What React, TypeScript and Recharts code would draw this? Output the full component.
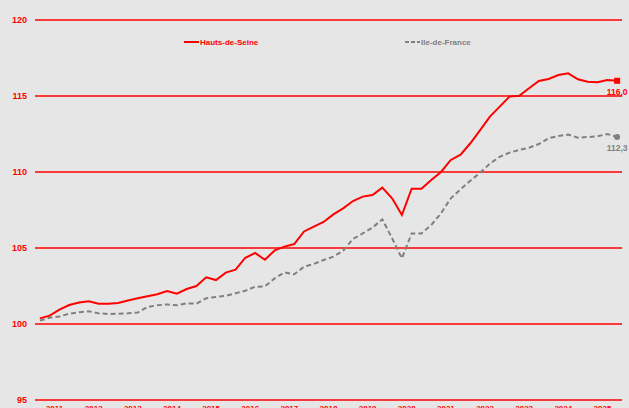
import React from 'react';
import {
  LineChart,
  Line,
  XAxis,
  YAxis,
  CartesianGrid,
  Legend,
} from 'recharts';

// quarterly index, base 100 = 2011 Q1
const YEARS = ['2011', '2012', '2013', '2014', '2015', '2016', '2017', '2018', '2019', '2020', '2021', '2022', '2023', '2024', '2025'];

const HAUTS_DE_SEINE = [
  100.37, 100.55, 100.95, 101.25, 101.42, 101.49, 101.34, 101.34,
  101.38, 101.55, 101.70, 101.83, 101.96, 102.17, 101.99, 102.30,
  102.50, 103.07, 102.89, 103.38, 103.58, 104.36, 104.67, 104.23,
  104.84, 105.09, 105.26, 106.09, 106.40, 106.71, 107.21, 107.61,
  108.09, 108.38, 108.49, 108.97, 108.27, 107.17, 108.90, 108.90,
  109.47, 110.00, 110.79, 111.14, 111.89, 112.76, 113.64, 114.30,
  114.96, 115.02, 115.51, 115.99, 116.12, 116.38, 116.49, 116.10,
  115.94, 115.90, 116.05, 116.0,
];

const ILE_DE_FRANCE = [
  100.22, 100.41, 100.50, 100.68, 100.77, 100.84, 100.70, 100.66,
  100.68, 100.70, 100.75, 101.12, 101.23, 101.29, 101.23, 101.36,
  101.34, 101.69, 101.78, 101.86, 102.02, 102.19, 102.45, 102.48,
  103.00, 103.40, 103.27, 103.77, 103.95, 104.21, 104.43, 104.82,
  105.59, 105.96, 106.34, 106.89, 105.64, 104.32, 105.96, 105.96,
  106.51, 107.28, 108.27, 108.86, 109.43, 109.96, 110.55, 111.00,
  111.27, 111.45, 111.60, 111.84, 112.22, 112.37, 112.46, 112.26,
  112.30, 112.35, 112.50, 112.3,
];

const Y_TICKS = [95, 100, 105, 110, 115, 120];

const RED = '#ff0000';
const GREY = '#808080';
const FONT = '"Liberation Sans", Arial, sans-serif';

const data = HAUTS_DE_SEINE.map((v, i) => ({ q: i, hds: v, idf: ILE_DE_FRANCE[i] }));
const LAST = data.length - 1;
const yearBounds = [...YEARS.map((_, i) => i * 4 - 0.5), YEARS.length * 4 - 0.5];
const yearCenters = YEARS.map((_, i) => i * 4 + 1.5);

const fmt = (v: number) => v.toFixed(1).replace('.', ',');

const endDot = (color: string, square: boolean) => (props: any) => {
  const { cx, cy, index, value } = props;
  if (index !== LAST) return <g key={`d${index}`} />;
  const v = Array.isArray(value) ? value[1] : value;
  return (
    <g key={`d${index}`}>
      {square
        ? <rect x={cx - 3} y={cy - 3} width={6} height={6} fill={color} />
        : <circle cx={cx} cy={cy} r={3} fill={color} />}
      <text x={cx} y={cy + 14} textAnchor="middle" fill={color} fontSize={8.5} fontWeight="bold" fontFamily={FONT}>
        {fmt(v)}
      </text>
    </g>
  );
};

const renderLegend = () => (
  <svg width={629} height={14} style={{ display: 'block' }}>
    <line x1={184} y1={7} x2={199} y2={7} stroke={RED} strokeWidth={2} />
    <text x={200} y={10} fill={RED} fontSize={8} fontWeight="bold" fontFamily={FONT}>Hauts-de-Seine</text>
    <line x1={405} y1={7} x2={420} y2={7} stroke={GREY} strokeWidth={2} strokeDasharray="4 2" />
    <text x={421} y={10} fill={GREY} fontSize={8} fontWeight={600} fontFamily={FONT}>Ile-de-France</text>
  </svg>
);

const App: React.FC = () => {
  return (
    <div style={{ position: 'absolute', left: 0, top: 0, width: 629, height: 408, background: '#e6e6e6', overflow: 'hidden' }}>
      <LineChart width={629} height={408} data={data} margin={{ top: 6, right: 7, left: 0, bottom: 0 }}>
        <CartesianGrid vertical={false} stroke={RED} strokeWidth={1.5} strokeOpacity={1} xAxisId="years" />
        <XAxis
          xAxisId="bounds"
          dataKey="q"
          type="number"
          domain={[-0.5, LAST + 0.5]}
          ticks={yearBounds}
          tick={false}
          tickSize={4}
          height={0}
          stroke={RED}
          axisLine={{ stroke: RED, strokeWidth: 1.5 }}
          tickLine={{ stroke: RED }}
        />
        <XAxis
          xAxisId="years"
          dataKey="q"
          type="number"
          domain={[-0.5, LAST + 0.5]}
          ticks={yearCenters}
          interval={0}
          tickFormatter={(v: number) => YEARS[Math.round((v - 1.5) / 4)]}
          axisLine={false}
          tickLine={false}
          tickSize={4}
          tickMargin={1}
          height={8}
          tick={{ fill: RED, fontSize: 8, fontWeight: 'bold', fontFamily: FONT }}
        />
        <YAxis
          domain={[95, 120]}
          ticks={Y_TICKS}
          interval={0}
          width={35}
          axisLine={false}
          tickLine={false}
          tick={{ fill: RED, fontSize: 9, fontWeight: 'bold', fontFamily: FONT }}
        />
        <Legend verticalAlign="top" align="left" height={14} content={renderLegend} wrapperStyle={{ top: 35, left: 0, width: 629 }} />
        <Line
          xAxisId="years"
          dataKey="idf"
          name="Ile-de-France"
          type="linear"
          stroke={GREY}
          strokeWidth={2}
          strokeDasharray="5 3"
          dot={endDot(GREY, false)}
          activeDot={false}
          isAnimationActive={false}
        />
        <Line
          xAxisId="years"
          dataKey="hds"
          name="Hauts-de-Seine"
          type="linear"
          stroke={RED}
          strokeWidth={2}
          dot={endDot(RED, true)}
          activeDot={false}
          isAnimationActive={false}
        />
      </LineChart>
    </div>
  );
};

export default App;
